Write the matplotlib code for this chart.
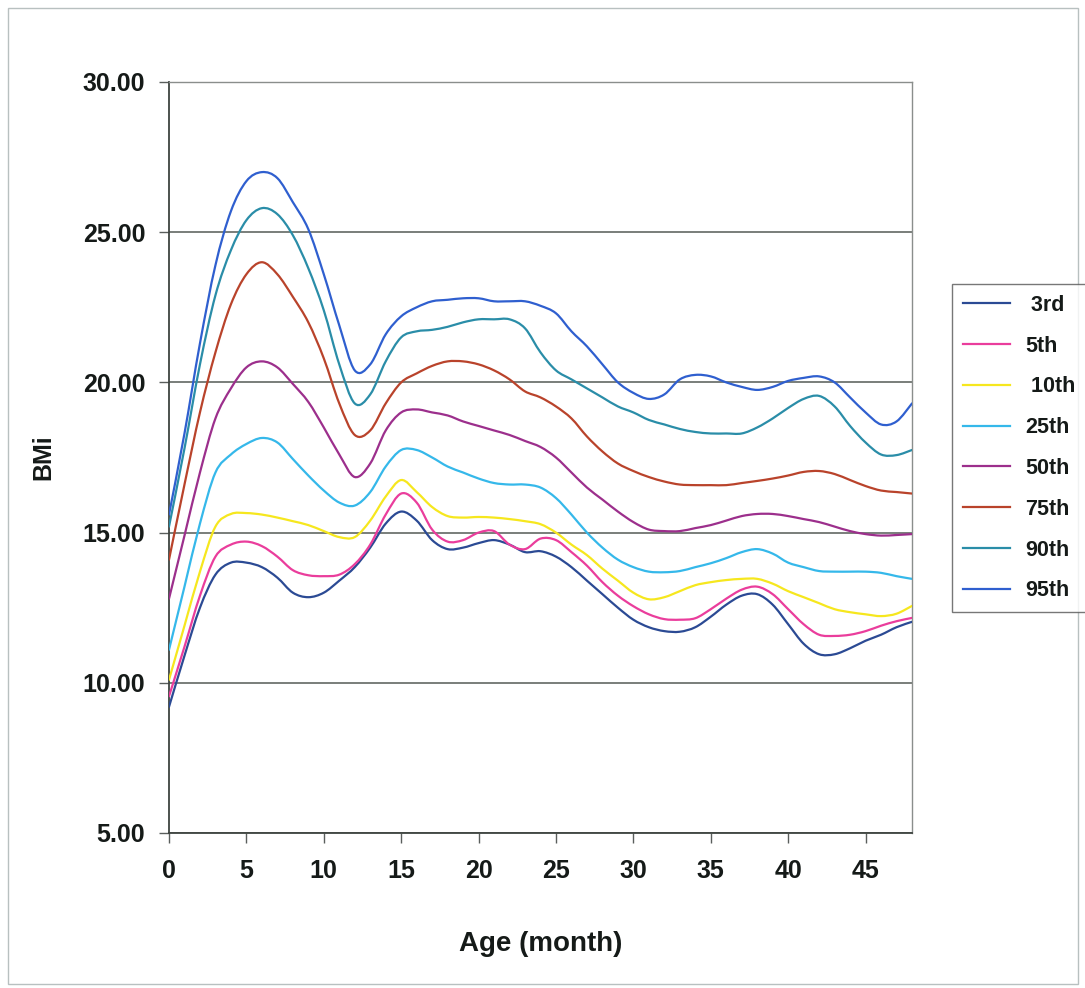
import matplotlib
matplotlib.use("Agg")
import matplotlib.pyplot as plt
from matplotlib.patches import Rectangle, PathPatch
from matplotlib.path import Path
from matplotlib.lines import Line2D
from matplotlib.ticker import FormatStrFormatter

plt.rcParams['font.family'] = ['Liberation Sans', 'DejaVu Sans']

months = list(range(0, 49))

p3 = [9.2, 10.9, 12.5, 13.6, 14.0, 14.0, 13.85, 13.5, 13.0, 12.85, 13.0, 13.4, 13.85,
      14.5, 15.3, 15.7, 15.4, 14.75, 14.45, 14.5, 14.65, 14.75, 14.6, 14.35, 14.38,
      14.2, 13.85, 13.4, 12.95, 12.5, 12.1, 11.85, 11.72, 11.7, 11.85, 12.2, 12.6,
      12.9, 12.95, 12.6, 11.95, 11.3, 10.95, 10.95, 11.15, 11.4, 11.6, 11.85, 12.03]
p5 = [9.55, 11.2, 12.9, 14.2, 14.6, 14.7, 14.55, 14.2, 13.75, 13.58, 13.55, 13.6, 13.95,
      14.6, 15.6, 16.3, 16.0, 15.1, 14.7, 14.75, 15.0, 15.05, 14.6, 14.45, 14.8,
      14.75, 14.35, 13.9, 13.35, 12.9, 12.55, 12.28, 12.12, 12.1, 12.15, 12.45, 12.8,
      13.1, 13.2, 12.95, 12.45, 11.95, 11.6, 11.56, 11.6, 11.72, 11.9, 12.05, 12.16]
p10 = [10.1, 11.9, 13.7, 15.2, 15.62, 15.65, 15.6, 15.5, 15.38, 15.25, 15.05, 14.85, 14.85,
       15.4, 16.2, 16.75, 16.35, 15.85, 15.55, 15.5, 15.52, 15.5, 15.45, 15.38, 15.28,
       15.0, 14.6, 14.25, 13.8, 13.4, 13.0, 12.78, 12.85, 13.05, 13.25, 13.35, 13.42,
       13.46, 13.46, 13.3, 13.05, 12.85, 12.65, 12.45, 12.35, 12.28, 12.22, 12.3, 12.56]
p25 = [11.1, 13.2, 15.3, 17.0, 17.6, 17.95, 18.15, 18.0, 17.45, 16.9, 16.4, 16.0, 15.9,
       16.35, 17.2, 17.75, 17.75, 17.5, 17.2, 17.0, 16.8, 16.65, 16.6, 16.6, 16.5,
       16.15, 15.6, 15.0, 14.5, 14.1, 13.85, 13.7, 13.68, 13.72, 13.85, 13.98, 14.15,
       14.35, 14.45, 14.3, 14.0, 13.85, 13.72, 13.7, 13.7, 13.7, 13.66, 13.55, 13.46]
p50 = [12.8, 14.9, 17.0, 18.8, 19.8, 20.5, 20.7, 20.5, 19.95, 19.35, 18.5, 17.6, 16.85,
       17.3, 18.4, 19.0, 19.1, 19.0, 18.9, 18.7, 18.55, 18.4, 18.25, 18.05, 17.85,
       17.5, 17.0, 16.5, 16.1, 15.7, 15.35, 15.1, 15.05, 15.05, 15.15, 15.25, 15.4,
       15.55, 15.62, 15.62, 15.55, 15.45, 15.35, 15.2, 15.05, 14.95, 14.9, 14.92, 14.95]
p75 = [14.1, 16.6, 19.0, 21.0, 22.6, 23.6, 24.0, 23.6, 22.85, 22.0, 20.8, 19.3, 18.25,
       18.4, 19.3, 20.0, 20.3, 20.55, 20.7, 20.7, 20.6, 20.4, 20.1, 19.7, 19.5,
       19.2, 18.8, 18.2, 17.7, 17.3, 17.05, 16.85, 16.7, 16.6, 16.58, 16.58, 16.58,
       16.65, 16.72, 16.8, 16.9, 17.02, 17.05, 16.95, 16.75, 16.55, 16.4, 16.35, 16.3]
p90 = [15.2, 17.8, 20.6, 22.9, 24.4, 25.4, 25.8, 25.6, 24.9, 23.8, 22.4, 20.6, 19.3,
       19.6, 20.7, 21.5, 21.7, 21.75, 21.85, 22.0, 22.1, 22.1, 22.1, 21.8, 21.0,
       20.4, 20.1, 19.8, 19.5, 19.2, 19.0, 18.75, 18.6, 18.45, 18.35, 18.3, 18.3,
       18.3, 18.5, 18.8, 19.15, 19.45, 19.55, 19.2, 18.55, 18.0, 17.6, 17.58, 17.75]
p95 = [15.6, 18.3, 21.3, 23.9, 25.7, 26.7, 27.0, 26.8, 26.0, 25.1, 23.6, 21.9, 20.4,
       20.6, 21.6, 22.2, 22.5, 22.7, 22.75, 22.8, 22.8, 22.7, 22.7, 22.7, 22.55,
       22.3, 21.7, 21.2, 20.6, 20.0, 19.65, 19.45, 19.6, 20.1, 20.25, 20.2, 20.0,
       19.85, 19.75, 19.85, 20.05, 20.15, 20.2, 20.0, 19.5, 19.0, 18.6, 18.7, 19.3]

labels = [' 3rd', '5th', ' 10th', '25th', '50th', '75th', '90th', '95th']
colors = ['#2B4A94', '#EA3D9C', '#F6E71E', '#35B8EA', '#9C2F8C', '#B9432B', '#2A8DA8', '#2F5FCF']
series = [p3, p5, p10, p25, p50, p75, p90, p95]


def smooth_path(xs, ys, k=1/6):
    """Excel-style smoothed line: cubic Bezier segments through the data points."""
    verts = [(xs[0], ys[0])]
    codes = [Path.MOVETO]
    n = len(xs)
    for i in range(n - 1):
        x0, y0 = xs[max(i - 1, 0)], ys[max(i - 1, 0)]
        x1, y1 = xs[i], ys[i]
        x2, y2 = xs[i + 1], ys[i + 1]
        x3, y3 = xs[min(i + 2, n - 1)], ys[min(i + 2, n - 1)]
        c1 = (x1 + (x2 - x0) * k, y1 + (y2 - y0) * k)
        c2 = (x2 - (x3 - x1) * k, y2 - (y3 - y1) * k)
        verts += [c1, c2, (x2, y2)]
        codes += [Path.CURVE4] * 3
    return Path(verts, codes)


fig = plt.figure(figsize=(10.85, 9.88), dpi=100)
ax = fig.add_axes([169/1085, 1 - 833/988, (912-169)/1085, (833-82)/988])

handles = []
for ys, lab, col in zip(series, labels, colors):
    patch = PathPatch(smooth_path(months, ys), facecolor='none', edgecolor=col, lw=1.6,
                      capstyle='round', joinstyle='round', zorder=3)
    ax.add_patch(patch)
    handles.append(Line2D([], [], color=col, lw=1.6, label=lab))

ax.set_xlim(0, 48)
ax.set_ylim(5, 30)
ax.set_xticks(range(0, 50, 5))
ax.set_yticks([5, 10, 15, 20, 25, 30])
ax.yaxis.set_major_formatter(FormatStrFormatter('%.2f'))
ax.grid(axis='y', color='#6E7470', lw=1.3)
ax.set_axisbelow(True)
for s in ['left', 'bottom']:
    ax.spines[s].set_color('#3E4440')
    ax.spines[s].set_linewidth(1.3)
for s in ['right', 'top']:
    ax.spines[s].set_color('#8A8E8C')
    ax.spines[s].set_linewidth(1.0)
ax.tick_params(axis='both', direction='out', length=7, width=1.0, color='#5A5E5C',
               labelsize=18)
ax.tick_params(axis='x', pad=12)
ax.tick_params(axis='y', pad=10)
for t in ax.get_xticklabels() + ax.get_yticklabels():
    t.set_fontweight('bold')
    t.set_color('#151A18')

ax.set_xlabel('Age (month)', fontsize=20, fontweight='bold', color='#151A18', labelpad=34)
ax.set_ylabel('BMi', fontsize=18, fontweight='bold', color='#151A18', labelpad=20)

leg = fig.legend(handles=handles, loc='upper left', bbox_to_anchor=(952/1085, 1 - 284/988),
                 borderaxespad=0, frameon=True, fancybox=False, edgecolor='#555555',
                 prop={'weight': 'bold', 'size': 15.5}, handlelength=2.2,
                 labelspacing=0.92, borderpad=0.5, handletextpad=0.7)
leg.get_frame().set_linewidth(1.0)
for t in leg.get_texts():
    t.set_color('#151A18')

fig.patches.append(Rectangle((8/1085, 4/988), 1070/1085, 976/988, transform=fig.transFigure,
                             fill=False, edgecolor='#B8C0C0', lw=1.0))

fig.savefig('out.png', dpi=100)
